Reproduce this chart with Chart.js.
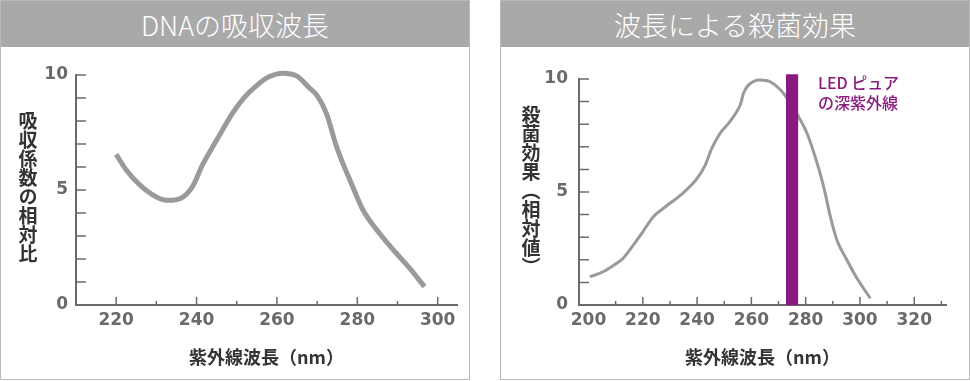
<!DOCTYPE html>
<html>
<head>
<meta charset="utf-8">
<script src="https://cdn.jsdelivr.net/npm/chart.js@4.4.1/dist/chart.umd.min.js"></script>
<style>
  body { margin: 0; width: 970px; height: 381px; background: #fff; position: relative; overflow: hidden;
         font-family: "Noto Sans CJK JP", "Noto Sans", sans-serif; }
  .panel { position: absolute; top: 0; width: 468px; height: 378px; border: 1px solid #b9b9b9; }
  .head { height: 46px; background: #aaa9a9; color: #fff; font-size: 27px; font-weight: 300; line-height: 48px; text-align: center; }
  .plot { position: absolute; top: 47px; width: 470px; height: 333px; }
  .ytitle { position: absolute; writing-mode: vertical-rl; font-size: 19px; line-height: 1; font-weight: 700;
            color: #333; transform: translate(-50%, -50%); white-space: nowrap; }
  .led { position: absolute; left: 818px; top: 72px; font-size: 16px; line-height: 20px; font-weight: 500; color: #8b1a7e; }
</style>
</head>
<body>
<div class="panel" style="left:0"><div class="head">DNAの吸収波長</div></div>
<div class="panel" style="left:500px"><div class="head">波長による殺菌効果</div></div>
<div class="plot" style="left:0"><canvas id="dna" width="470" height="333"></canvas></div>
<div class="plot" style="left:500px"><canvas id="germ" width="470" height="333"></canvas></div>
<div class="ytitle" style="left:28px; top:187px">吸収係数の相対比</div>
<div class="ytitle" style="left:531px; top:191px">殺菌効果（相対値）</div>
<div class="led">LED ピュア<br>の深紫外線</div>
<script>
// --- data ---
const dnaWavelength = [220, 222.5, 226, 230, 233, 236.5, 239, 241.5, 245, 249, 252, 255, 258, 261.5, 265, 268, 270, 272.3, 274.8, 276.4, 278, 281.4, 285.5, 289.7, 293, 296.7];
const dnaAbsorbance = [6.55, 5.87, 5.2, 4.7, 4.55, 4.68, 5.15, 6.1, 7.17, 8.35, 9.05, 9.55, 9.92, 10.08, 9.95, 9.45, 9.1, 8.33, 6.9, 6.16, 5.5, 4.13, 3.12, 2.25, 1.6, 0.8];

const germWavelength = [200.5, 205.4, 210, 212.8, 216.5, 220, 223.9, 227.6, 230, 235, 240, 243, 245.4, 248.5, 251.6, 254.6, 256.1, 257.1, 258.9, 263.2, 266.9, 271.8, 277.4, 280.5, 283.5, 286, 287.2, 289.1, 291.5, 295.2, 298.9, 303.8];
const germEffect = [1.25, 1.47, 1.81, 2.07, 2.65, 3.24, 3.91, 4.28, 4.5, 4.97, 5.6, 6.19, 6.93, 7.6, 8.04, 8.55, 8.92, 9.37, 9.73, 9.96, 9.88, 9.37, 8.33, 7.6, 6.56, 5.53, 4.94, 3.91, 2.88, 1.99, 1.18, 0.3];

const ledWavelength = [275];
const ledLevel = [10.2];

const yLabels = [0, 5, 10];
const yMarks = [0, 1, 2, 3, 4, 5, 6, 7, 8, 9, 10];
const dnaXLabels = [220, 240, 260, 280, 300];
const dnaXMarks = [220, 230, 240, 250, 260, 270, 280, 290, 300];
const germXLabels = [200, 220, 240, 260, 280, 300, 320];
const germXMarks = [210, 220, 230, 240, 250, 260, 270, 280, 290, 300, 310, 320, 330];

const axisGray = '#6b6b6b';
const curveGray = '#9a9a9a';

// inward tick marks, drawn through the chart's own scales
const tickMarks = {
  id: 'tickMarks',
  beforeDatasetsDraw(chart, args, opts) {
    const { ctx, scales: { x, y } } = chart;
    ctx.save();
    ctx.strokeStyle = axisGray;
    ctx.lineWidth = 1.5;
    ctx.beginPath();
    opts.yMarks.forEach(v => {
      const py = y.getPixelForValue(v);
      ctx.moveTo(x.left, py); ctx.lineTo(x.left + 10, py);
    });
    opts.xMarks.forEach(v => {
      const px = x.getPixelForValue(v);
      const len = v % 20 === 0 ? 8 : 4;
      ctx.moveTo(px, y.bottom); ctx.lineTo(px, y.bottom - len);
    });
    ctx.stroke();
    ctx.restore();
  }
};

function points(xs, ys) { return xs.map((x, i) => ({ x, y: ys[i] })); }

function buildOptions(o) {
  return {
    responsive: false,
    animation: false,
    layout: { padding: { left: 0, top: o.top, right: o.right, bottom: 0 } },
    plugins: { legend: { display: false }, tooltip: { enabled: false },
               tickMarks: { yMarks: yMarks, xMarks: o.xMarks } },
    scales: {
      x: {
        type: 'linear', min: o.xMin, max: o.xMax, offset: false,
        grid: { display: false, drawTicks: false, offset: false },
        border: { display: true, color: axisGray, width: 2 },
        afterBuildTicks: s => { s.ticks = o.xLabels.map(v => ({ value: v })); },
        afterFit: s => { s.height = 75; },
        ticks: { padding: 5, color: '#6a6a6a', font: { family: 'DejaVu Sans', size: 17, weight: 'bold' } },
        title: { display: true, text: '紫外線波長（nm）', color: '#333', padding: { top: 0, bottom: 12 },
                 font: { family: 'Noto Sans CJK JP', size: 18, weight: 'bold' } }
      },
      y: {
        type: 'linear', min: 0, max: 10,
        grid: { display: false, drawTicks: false },
        border: { display: true, color: axisGray, width: 2 },
        afterBuildTicks: s => { s.ticks = yLabels.map(v => ({ value: v })); },
        afterFit: s => { s.width = o.yWidth; },
        ticks: { padding: o.yPad, color: '#6a6a6a', font: { family: 'DejaVu Sans', size: 17, weight: 'bold' } }
      }
    }
  };
}

new Chart(document.getElementById('dna'), {
  type: 'line',
  data: {
    datasets: [{
      data: points(dnaWavelength, dnaAbsorbance),
      borderColor: curveGray, borderWidth: 5, pointRadius: 0,
      cubicInterpolationMode: 'monotone', clip: false
    }]
  },
  options: buildOptions({ top: 28, right: 13, xMin: 210, xMax: 304.8, yWidth: 76, yPad: 8,
                          xLabels: dnaXLabels, xMarks: dnaXMarks }),
  plugins: [tickMarks]
});

new Chart(document.getElementById('germ'), {
  type: 'line',
  data: {
    datasets: [{
      type: 'bar',
      data: points(ledWavelength, ledLevel),
      backgroundColor: '#8b1a7e', barThickness: 11.5, grouped: false, order: 0, clip: false
    }, {
      data: points(germWavelength, germEffect),
      borderColor: curveGray, borderWidth: 3, pointRadius: 0,
      cubicInterpolationMode: 'monotone', order: 1, clip: false
    }]
  },
  options: buildOptions({ top: 32, right: 24, xMin: 196.5, xMax: 331.7, yWidth: 79, yPad: 11,
                          xLabels: germXLabels, xMarks: germXMarks }),
  plugins: [tickMarks]
});
</script>
</body>
</html>
